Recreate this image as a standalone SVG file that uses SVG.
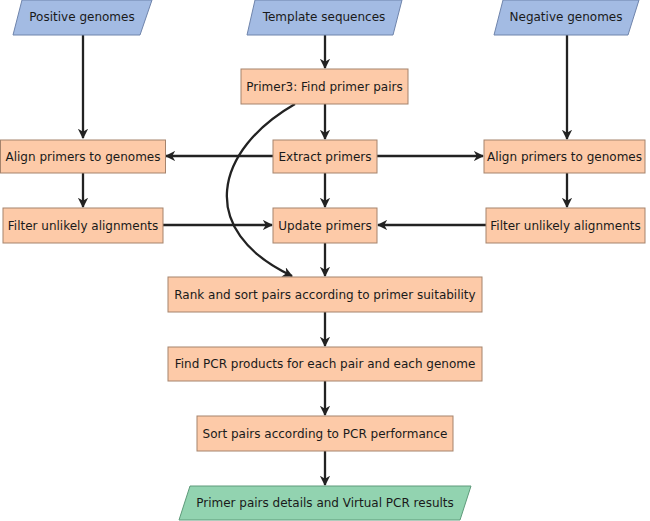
<svg xmlns="http://www.w3.org/2000/svg" width="650" height="521" viewBox="0 0 650 521">
<defs>
<style>
.io{fill:#a3bbe3;stroke:#6f84ab;stroke-width:1}
.out{fill:#92d3b0;stroke:#5e9a7a;stroke-width:1}
.proc{fill:#fdcaa8;stroke:#a5836c;stroke-width:1}
text{font-family:"DejaVu Sans",sans-serif;font-size:12px;fill:#1a1a1a;text-anchor:middle;dominant-baseline:central}
.c{fill:none;stroke:#222;stroke-width:2.3;marker-end:url(#ah)}
</style>
<marker id="ah" viewBox="0 0 10 10" refX="9" refY="5" markerWidth="4.5" markerHeight="4.5" orient="auto" markerUnits="strokeWidth">
<path d="M0,0 L10,5 L0,10 L3,5 Z" fill="#222"/>
</marker>
</defs>
<rect width="650" height="521" fill="#fff"/>
<g id="connectors">
<line class="c" x1="83" y1="35" x2="83" y2="138"/>
<line class="c" x1="83" y1="173" x2="83" y2="207"/>
<line class="c" x1="325" y1="35" x2="325" y2="68"/>
<line class="c" x1="325" y1="104" x2="325" y2="139"/>
<line class="c" x1="325" y1="173" x2="325" y2="207"/>
<line class="c" x1="567" y1="35" x2="567" y2="139"/>
<line class="c" x1="567" y1="173" x2="567" y2="207"/>
<line class="c" x1="273" y1="156" x2="166" y2="156"/>
<line class="c" x1="377" y1="156" x2="483" y2="156"/>
<line class="c" x1="163" y1="225" x2="272" y2="225"/>
<line class="c" x1="486" y1="225" x2="378" y2="225"/>
<line class="c" x1="325" y1="243" x2="325" y2="276"/>
<line class="c" x1="325" y1="312" x2="325" y2="346"/>
<line class="c" x1="325" y1="381" x2="325" y2="415"/>
<line class="c" x1="325" y1="451" x2="325" y2="485"/>
<path class="c" d="M295,104 C215,150 195,230 292,276"/>
</g>
<g id="positive"><polygon class="io" points="22,0 152,0 140,35 13,35"/><text x="82" y="17">Positive genomes</text></g>
<g id="template"><polygon class="io" points="255,0 402,0 393,35 247,35"/><text x="324" y="17">Template sequences</text></g>
<g id="negative"><polygon class="io" points="503,0 639,0 628,35 494,35"/><text x="566" y="17">Negative genomes</text></g>
<g id="primer3"><rect class="proc" x="241" y="69" width="167" height="35"/><text x="324.5" y="86.5">Primer3: Find primer pairs</text></g>
<g id="alignL"><rect class="proc" x="0.5" y="140" width="165" height="33"/><text x="83" y="156.5">Align primers to genomes</text></g>
<g id="extract"><rect class="proc" x="273" y="140" width="104" height="33"/><text x="325" y="156.5">Extract primers</text></g>
<g id="alignR"><rect class="proc" x="484" y="140" width="161" height="33"/><text x="564.5" y="156.5">Align primers to genomes</text></g>
<g id="filterL"><rect class="proc" x="3" y="208" width="160" height="35"/><text x="83" y="225.5">Filter unlikely alignments</text></g>
<g id="update"><rect class="proc" x="273" y="208" width="104" height="35"/><text x="325" y="225.5">Update primers</text></g>
<g id="filterR"><rect class="proc" x="486" y="208" width="159" height="35"/><text x="565.5" y="225.5">Filter unlikely alignments</text></g>
<g id="rank"><rect class="proc" x="168" y="277" width="314" height="35"/><text x="325" y="294.5">Rank and sort pairs according to primer suitability</text></g>
<g id="findpcr"><rect class="proc" x="168" y="347" width="314" height="34"/><text x="325" y="364">Find PCR products for each pair and each genome</text></g>
<g id="sortpcr"><rect class="proc" x="197" y="416" width="256" height="35"/><text x="325" y="433.5">Sort pairs according to PCR performance</text></g>
<g id="output"><polygon class="out" points="190,486 471,486 460,520 179,520"/><text x="325" y="503">Primer pairs details and Virtual PCR results</text></g>
</svg>
